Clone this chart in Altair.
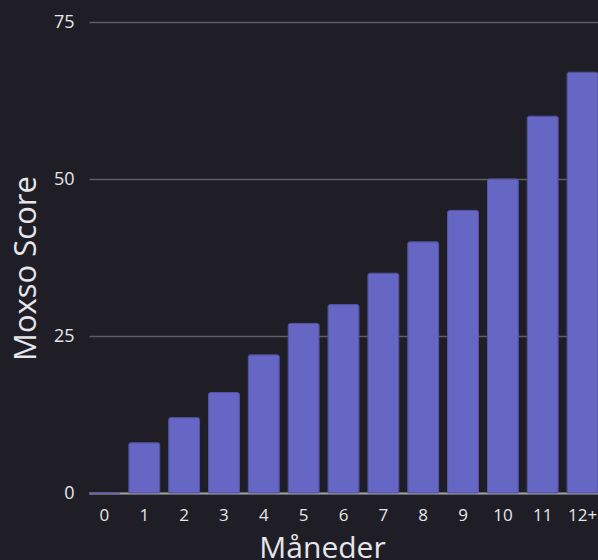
import altair as alt
import pandas as pd

months = ["0", "1", "2", "3", "4", "5", "6", "7", "8", "9", "10", "11", "12+"]
scores = [0, 8, 12, 16, 22, 27, 30, 35, 40, 45, 50, 60, 67]
y_ticks = [0, 25, 50, 75]

BG = "#1f1e26"
FONT = "Open Sans"
TEXT = "#e6e6ea"

# page shares the chart's dark background; let the svg reach the right edge
try:
    import altair.utils.html as _h

    _orig_tpl = _h.TEMPLATES["standard"]

    class _DarkPage:
        def render(self, **kw):
            html = _orig_tpl.render(**kw)
            style = (
                "<style>html,body{background:%s;}"
                "body{margin:8px 0 0 8px;}"
                ".vega-embed{overflow:visible !important;}"
                ".vega-embed svg{flex-shrink:0;}</style>" % BG
            )
            if "<head>" in html:
                return html.replace("<head>", "<head>" + style, 1)
            return style + html

    _h.TEMPLATES["standard"] = _DarkPage()
except Exception:
    pass

df = pd.DataFrame({"Måneder": months, "Moxso Score": scores})

chart = (
    alt.Chart(df)
    .mark_bar(
        color="#6666c4",
        stroke="#5656a8",
        strokeWidth=1,
        cornerRadiusTopLeft=2,
        cornerRadiusTopRight=2,
    )
    .encode(
        x=alt.X(
            "Måneder:N",
            sort=months,
            scale=alt.Scale(paddingInner=0.225, paddingOuter=0),
            axis=alt.Axis(
                title="Måneder",
                labelAngle=0,
                labelFontSize=17,
                labelColor=TEXT,
                labelFont=FONT,
                labelPadding=14,
                ticks=False,
                domain=True,
                domainColor="#a0a0a4",
                domainWidth=2,
                grid=False,
                titleFont=FONT,
                titleFontSize=30,
                titleFontWeight="normal",
                titleColor=TEXT,
                titleBaseline="alphabetic",
                titleAnchor="start",
                titleAlign="center",
                titleX=233,
                titleY=64,
            ),
        ),
        y=alt.Y(
            "Moxso Score:Q",
            scale=alt.Scale(domain=[0, 75], nice=False),
            axis=alt.Axis(
                title="Moxso Score",
                values=y_ticks,
                labelFontSize=18,
                labelColor=TEXT,
                labelFont=FONT,
                labelPadding=15,
                ticks=False,
                domain=False,
                grid=True,
                gridColor="#5e5e62",
                gridWidth=1.5,
                titleFont=FONT,
                titleFontSize=31,
                titleFontWeight="normal",
                titleColor=TEXT,
                titleBaseline="alphabetic",
                titleAlign="center",
                titleAngle=-90,
                titleX=-54,
                titleY=246,
            ),
        ),
    )
    .properties(
        width=509,
        height=471,
        background=BG,
        padding={"left": 81, "top": 14, "right": 0, "bottom": 66},
        autosize=alt.AutoSizeParams(type="none"),
    )
    .configure_view(stroke=None)
)

chart.save("out.html", embed_options={"renderer": "svg", "actions": False})
